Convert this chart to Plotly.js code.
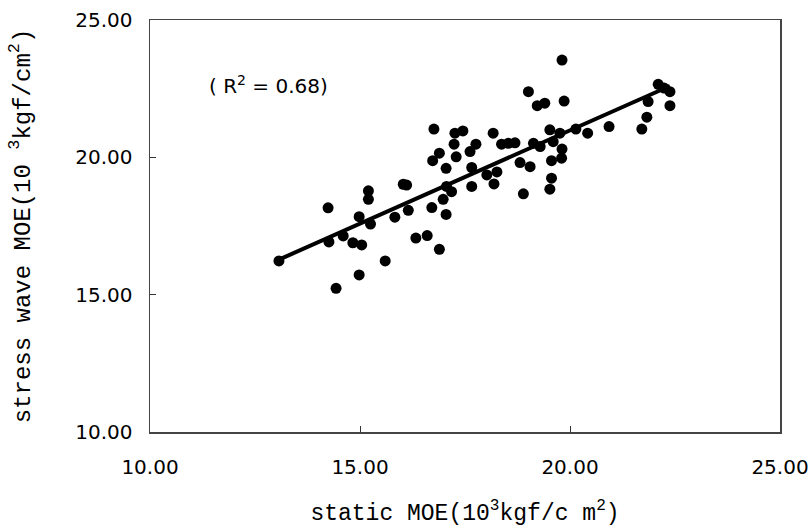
<!DOCTYPE html>
<html>
<head>
<meta charset="utf-8">
<script src="https://cdn.plot.ly/plotly-3.0.1.min.js"></script>
<style>html,body{margin:0;padding:0;background:#fff;}#chart{width:812px;height:532px;}</style>
</head>
<body>
<div id="chart"></div>
<script>
// static MOE (10^3 kgf/cm^2)
const staticMOE = [13.07,14.24,14.26,14.43,14.60,14.83,15.04,14.98,14.98,15.20,15.20,15.25,15.60,15.83,16.03,16.11,16.15,16.33,16.60,16.71,
  16.89,16.98,17.06,17.18,17.05,17.05,16.76,17.26,17.45,17.24,16.89,16.73,17.29,17.76,17.62,17.66,18.02,18.19,17.66,18.17,
  18.37,18.53,18.69,19.13,19.29,19.52,19.60,19.76,19.81,19.56,19.80,18.81,19.05,18.26,19.56,19.52,18.89,19.81,19.01,19.22,
  19.40,19.86,22.10,22.38,21.86,22.38,21.83,21.71,20.93,20.42,20.14,22.24];
// stress wave MOE (10^3 kgf/cm^2)
const stressWaveMOE = [16.23,18.16,16.92,15.23,17.14,16.89,16.81,17.84,15.72,18.78,18.47,17.57,16.23,17.82,19.02,18.99,18.07,17.06,17.15,18.17,
  16.65,18.47,18.94,18.75,17.92,19.60,21.03,20.88,20.96,20.48,20.15,19.88,20.02,20.48,20.21,19.63,19.36,19.03,18.94,20.88,
  20.48,20.51,20.53,20.51,20.39,21.00,20.57,20.88,20.30,19.88,19.97,19.81,19.66,19.47,19.24,18.84,18.67,23.54,22.39,21.88,
  21.97,22.05,22.66,22.39,22.03,21.88,21.46,21.03,21.12,20.88,21.03,22.52];
const tickValues = [10, 15, 20, 25];
const tickLabels = ["10.00", "15.00", "20.00", "25.00"];
const r2Label = "( R<sup>2</sup> = 0.68)";

// least-squares fit computed from the data
const n = staticMOE.length;
const mx = staticMOE.reduce((a,b)=>a+b,0)/n;
const my = stressWaveMOE.reduce((a,b)=>a+b,0)/n;
let sxy = 0, sxx = 0;
for (let i=0;i<n;i++){ sxy += (staticMOE[i]-mx)*(stressWaveMOE[i]-my); sxx += (staticMOE[i]-mx)**2; }
const slope = sxy/sxx, icpt = my - slope*mx;
const xmin = Math.min(...staticMOE), xmax = Math.max(...staticMOE);
const fitX = [xmin, xmax];
const fitY = fitX.map(v => icpt + slope*v);

const traces = [
  {x: staticMOE, y: stressWaveMOE, type: 'scatter', mode: 'markers',
   marker: {color: '#000', size: 11}, hoverinfo: 'none'},
  {x: fitX, y: fitY, type: 'scatter', mode: 'lines',
   line: {color: '#000', width: 4}, hoverinfo: 'none'}
];

const axisCommon = {
  tickvals: tickValues, ticktext: tickLabels,
  ticks: 'inside', ticklen: 6, tickcolor: '#333', tickwidth: 1,
  showline: true, linecolor: '#444', linewidth: 1.5, mirror: true,
  showgrid: false, zeroline: false,
  tickfont: {family: 'DejaVu Sans, sans-serif', size: 20, color: '#000'}
};

const layout = {
  width: 812, height: 532,
  margin: {l: 150, r: 32, t: 20, b: 100},
  paper_bgcolor: '#fff', plot_bgcolor: '#fff',
  showlegend: false,
  xaxis: Object.assign({}, axisCommon, {
    range: [10, 25], ticklabelstandoff: 16,
    title: {text: 'static MOE(10<sup>3</sup>kgf/c m<sup>2</sup>)', standoff: 26,
            font: {family: 'Liberation Mono, monospace', size: 23, color: '#000'}}
  }),
  yaxis: Object.assign({}, axisCommon, {
    range: [10, 25], ticklabelstandoff: 12,
    title: {text: 'stress wave MOE(10 <sup>3</sup>kgf/cm<sup>2</sup>)', standoff: 38,
            font: {family: 'Liberation Mono, monospace', size: 24, color: '#000'}}
  }),
  annotations: [{
    x: 11.35, y: 22.65, xref: 'x', yref: 'y', xanchor: 'left', yanchor: 'middle',
    text: r2Label, showarrow: false,
    font: {family: 'DejaVu Sans, sans-serif', size: 20, color: '#000'}
  }]
};

Plotly.newPlot('chart', traces, layout, {displayModeBar: false, staticPlot: true});
</script>
</body>
</html>
